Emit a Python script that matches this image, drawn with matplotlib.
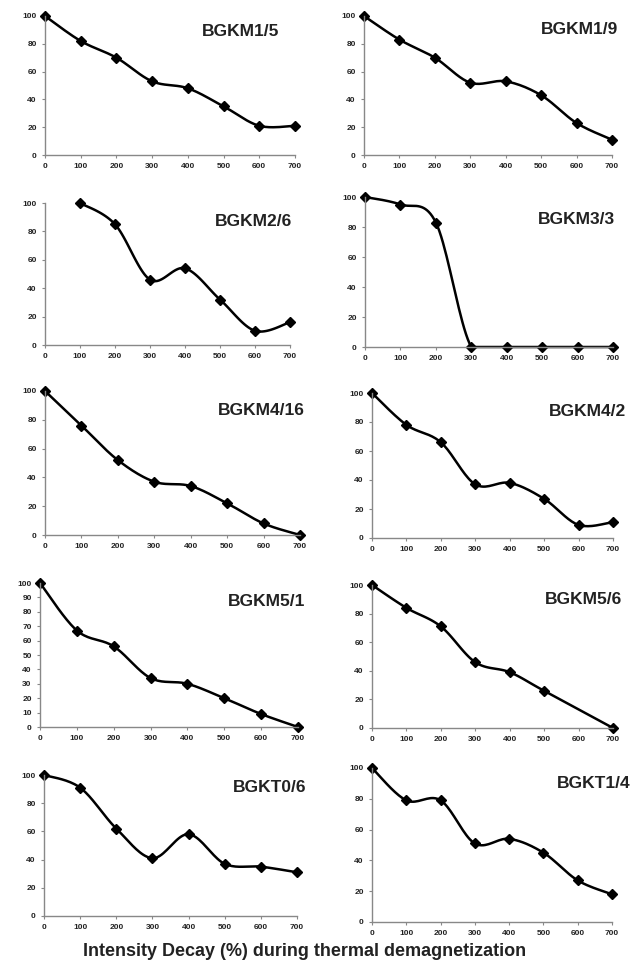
import numpy as np
import matplotlib
matplotlib.use("Agg")
import matplotlib.pyplot as plt

plt.rcParams['font.family'] = ['Liberation Sans', 'DejaVu Sans']

W, H = 643, 969

# sample names and demagnetization steps (deg C)
names = ["BGKM1/5", "BGKM1/9", "BGKM2/6", "BGKM3/3", "BGKM4/16",
         "BGKM4/2", "BGKM5/1", "BGKM5/6", "BGKT0/6", "BGKT1/4"]
temps_full = [0, 100, 200, 300, 400, 500, 600, 700]
temps_m26 = [100, 200, 300, 400, 500, 600, 700]
temps_m56 = [0, 100, 200, 300, 400, 500, 700]

# remaining intensity (%)
m1_5 = [100, 82, 70, 53, 48, 35, 21, 21]
m1_9 = [100, 83, 70, 52, 53, 43, 23, 11]
m2_6 = [100, 85, 46, 54, 32, 10, 16]
m3_3 = [100, 95, 83, 0, 0, 0, 0, 0]
m4_16 = [100, 76, 52, 37, 34, 22, 8, 0]
m4_2 = [100, 78, 66, 37, 38, 27, 9, 11]
m5_1 = [100, 67, 56, 34, 30, 20, 9, 0]
m5_6 = [100, 84, 71, 46, 39, 26, 0]
t0_6 = [100, 91, 62, 41, 58, 37, 35, 31]
t1_4 = [100, 79, 79, 51, 54, 45, 27, 18]

xs = [temps_full, temps_full, temps_m26, temps_full, temps_full,
      temps_full, temps_full, temps_m56, temps_full, temps_full]
ys = [m1_5, m1_9, m2_6, m3_3, m4_16, m4_2, m5_1, m5_6, t0_6, t1_4]

# axes boxes in pixels: x0 (value 0), x1 (value 700), y top (100), y bottom (0)
boxes = [(45, 295, 16, 155), (364, 612, 16, 155),
         (45, 290, 203, 345), (365, 613, 197, 347),
         (45, 300, 391, 535), (372, 613, 393, 538),
         (40, 298, 583, 727), (372, 613, 585, 728),
         (44, 297, 775, 916), (372, 612, 768, 922)]
# label centre positions in pixels
lab_pos = [(241, 32), (580, 30), (254, 222), (576, 220), (261, 410),
           (588, 412), (267, 602), (584, 600), (270, 787), (594, 783)]


def smooth(x, y, n=20):
    # Catmull-Rom curve through the points, like spreadsheet smoothed lines
    x = np.asarray(x, float)
    y = np.asarray(y, float)
    px = np.concatenate([[x[0]], x, [x[-1]]])
    py = np.concatenate([[y[0]], y, [y[-1]]])
    ox, oy = [], []
    for i in range(1, len(px) - 2):
        t = np.linspace(0, 1, n, endpoint=False)
        for p, out in ((px, ox), (py, oy)):
            p0, p1, p2, p3 = p[i - 1], p[i], p[i + 1], p[i + 2]
            out.extend(0.5 * ((2 * p1) + (-p0 + p2) * t
                              + (2 * p0 - 5 * p1 + 4 * p2 - p3) * t ** 2
                              + (-p0 + 3 * p1 - 3 * p2 + p3) * t ** 3))
    ox.append(x[-1])
    oy.append(y[-1])
    return ox, np.clip(oy, 0, 100)


fig = plt.figure(figsize=(W / 100, H / 100), dpi=100)

for i in range(10):
    x0, x1, yt, yb = boxes[i]
    ax = fig.add_axes([x0 / W, 1 - yb / H, (x1 - x0) / W, (yb - yt) / H])
    sx, sy = smooth(xs[i], ys[i])
    ax.plot(sx, sy, color='black', lw=1.8, clip_on=False)
    ax.plot(xs[i], ys[i], 'D', color='black', ms=5, clip_on=False)
    ax.set_xlim(0, 700)
    ax.set_ylim(0, 100)
    ax.set_xticks(temps_full)
    if i == 6:
        ax.set_yticks(range(0, 101, 10))
    else:
        ax.set_yticks(range(0, 101, 20))
    for s in ['top', 'right']:
        ax.spines[s].set_visible(False)
    for s in ['left', 'bottom']:
        ax.spines[s].set_color('#888888')
        ax.spines[s].set_linewidth(1.0)
    ax.tick_params(length=2, width=0.8, color='#888888', labelsize=6,
                   pad=4)
    for lbl in ax.get_xticklabels() + ax.get_yticklabels():
        lbl.set_fontweight('bold')
        lbl.set_color('#222222')
    lx, ly = lab_pos[i]
    fig.text(lx / W, 1 - ly / H, names[i], ha='center', va='center',
             fontsize=12.5, fontweight='bold', color='#222222')

fig.text(305 / W, 1 - 952 / H,
         "Intensity Decay (%) during thermal demagnetization",
         ha='center', va='center', fontsize=13, fontweight='bold',
         color='#222222')

fig.savefig("out.png", dpi=100)
